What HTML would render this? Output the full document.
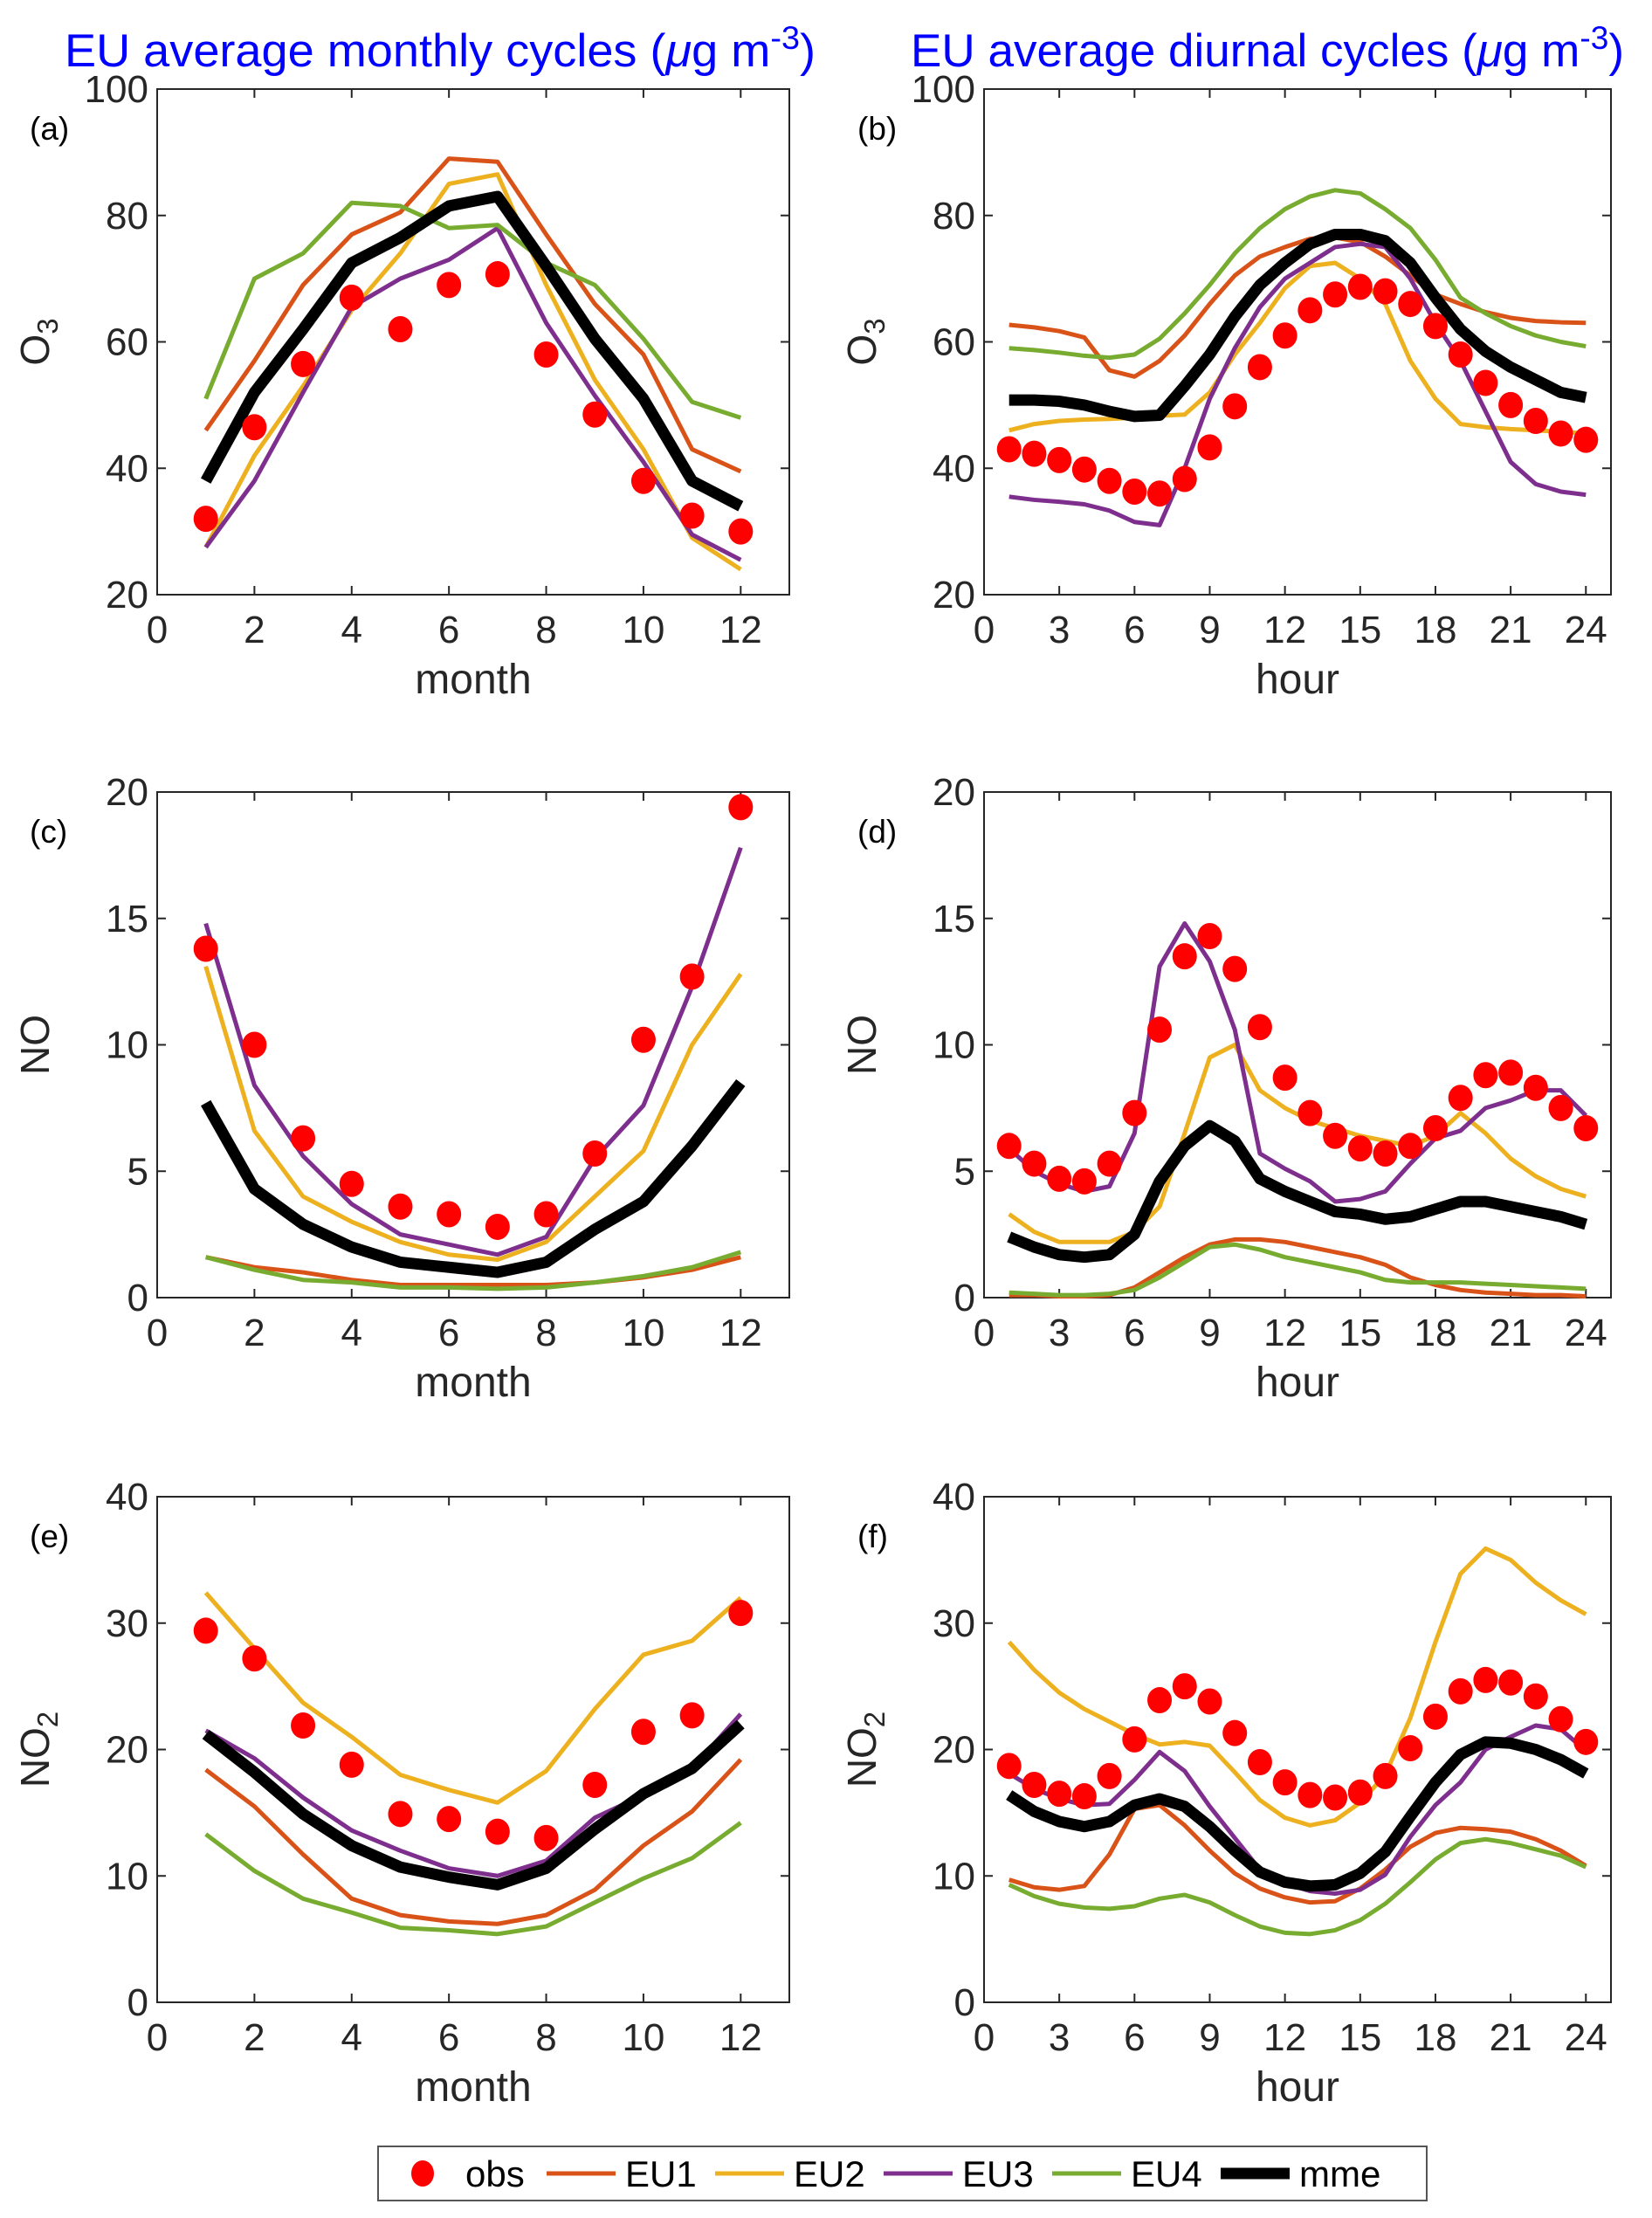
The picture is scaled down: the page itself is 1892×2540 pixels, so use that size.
<!DOCTYPE html>
<html><head><meta charset="utf-8">
<style>
html,body{margin:0;padding:0;background:#fff;}
svg{display:block;font-family:"Liberation Sans",Arial,sans-serif;}
</style></head>
<body>
<svg id="fig" width="1892" height="2540" viewBox="0 0 1892 2540" xmlns="http://www.w3.org/2000/svg">
<text x="74" y="76" font-size="53" fill="#0000FF" textLength="860" lengthAdjust="spacingAndGlyphs">EU average monthly cycles (<tspan font-style="italic">μ</tspan>g m<tspan dy="-20" font-size="37">-3</tspan><tspan dy="20">)</tspan></text>
<text x="1043" y="76" font-size="53" fill="#0000FF" textLength="817" lengthAdjust="spacingAndGlyphs">EU average diurnal cycles (<tspan font-style="italic">μ</tspan>g m<tspan dy="-20" font-size="37">-3</tspan><tspan dy="20">)</tspan></text>
<g id="legend">
<rect x="433" y="2458" width="1201" height="62" fill="#fff" stroke="#555" stroke-width="2"/>
<ellipse cx="484" cy="2489" rx="13" ry="15" fill="#FF0000"/>
<text x="533" y="2504" font-size="42">obs</text>
<line x1="626" y1="2489" x2="705" y2="2489" stroke="#D95319" stroke-width="5"/>
<text x="716" y="2504" font-size="42">EU1</text>
<line x1="819" y1="2489" x2="898" y2="2489" stroke="#EDB120" stroke-width="5"/>
<text x="909" y="2504" font-size="42">EU2</text>
<line x1="1012" y1="2489" x2="1091" y2="2489" stroke="#7E2F8E" stroke-width="5"/>
<text x="1102" y="2504" font-size="42">EU3</text>
<line x1="1205" y1="2489" x2="1284" y2="2489" stroke="#77AC30" stroke-width="5"/>
<text x="1295" y="2504" font-size="42">EU4</text>
<line x1="1398" y1="2489" x2="1477" y2="2489" stroke="#000" stroke-width="13"/>
<text x="1488" y="2504" font-size="42">mme</text>
</g>
</svg>
<script>
// Panel (a) O3 monthly
const aObs=[32,46.5,56.5,67,62,69,70.7,58,48.5,38,32.5,30];
const aEU1=[46,57,69,77,80.5,89,88.5,77,66,58,43,39.5];
const aEU2=[27.5,42,53,65,74,85,86.5,69,54,43,29,24];
const aEU3=[27.5,38,52,65.5,70,73,78,63,51.5,41,29.5,25.5];
const aEU4=[51,70,74,82,81.5,78,78.5,72.5,69,60.5,50.5,48];
const aMME=[38,52,62,72.5,76.5,81.5,83,72,60.5,51,38,34];
// Panel (b) O3 diurnal
const bObs=[43,42.3,41.3,39.8,38,36.3,36,38.3,43.3,49.8,56,61,65,67.5,68.7,68,66,62.5,58,53.5,50,47.5,45.5,44.5];
const bEU1=[62.7,62.3,61.7,60.7,55.5,54.5,57,61,66,70.5,73.5,75,76.3,76.5,75.8,73.5,70.5,67.5,66,64.7,63.8,63.3,63.1,63];
const bEU2=[46,47,47.5,47.7,47.8,48,48.3,48.5,52,58,63,68.5,72,72.5,70,66,57,51,47,46.5,46.2,46,45.8,45.5];
const bEU3=[35.5,35,34.7,34.3,33.3,31.5,31,40,51,59,65.5,70,72.5,75,75.5,75,70,63,57,49,41,37.5,36.3,35.8];
const bEU4=[59,58.7,58.3,57.8,57.5,58,60.5,64.5,69,74,78,81,83,84,83.5,81,78,73,67,64.5,62.5,61,60,59.3];
const bMME=[50.8,50.8,50.6,50,49,48.2,48.4,53,58,64,69,72.5,75.5,77,77,76,72.5,67,62,58.5,56,54,52,51.2];
// Panel (c) NO monthly
const cObs=[13.8,10,6.3,4.5,3.6,3.3,2.8,3.3,5.7,10.2,12.7,19.4];
const cEU1=[1.6,1.2,1,0.7,0.5,0.5,0.5,0.5,0.6,0.8,1.1,1.6];
const cEU2=[13.1,6.6,4,3,2.2,1.7,1.5,2.2,4,5.8,10,12.8];
const cEU3=[14.8,8.4,5.6,3.7,2.5,2.1,1.7,2.4,5.5,7.6,12.3,17.8];
const cEU4=[1.6,1.1,0.7,0.6,0.4,0.4,0.35,0.4,0.6,0.85,1.2,1.8];
const cMME=[7.7,4.3,2.9,2,1.4,1.2,1,1.4,2.7,3.8,6,8.5];
// Panel (d) NO diurnal
const dObs=[6,5.3,4.7,4.6,5.3,7.3,10.6,13.5,14.3,13,10.7,8.7,7.3,6.4,5.9,5.7,6,6.7,7.9,8.8,8.9,8.3,7.5,6.7];
const dEU1=[0.1,0.1,0.05,0.05,0.1,0.4,1,1.6,2.1,2.3,2.3,2.2,2,1.8,1.6,1.3,0.8,0.5,0.3,0.2,0.15,0.1,0.1,0.05];
const dEU2=[3.3,2.6,2.2,2.2,2.2,2.6,3.6,6.5,9.5,10,8.2,7.5,7,6.7,6.4,6.2,6,6.4,7.3,6.5,5.5,4.8,4.3,4];
const dEU3=[5.9,5,4.5,4.2,4.4,6.5,13.1,14.8,13.3,10.6,5.7,5.1,4.6,3.8,3.9,4.2,5.3,6.3,6.6,7.5,7.8,8.2,8.2,7.2];
const dEU4=[0.2,0.15,0.1,0.1,0.15,0.3,0.8,1.4,2,2.1,1.9,1.6,1.4,1.2,1,0.7,0.6,0.6,0.6,0.55,0.5,0.45,0.4,0.35];
const dMME=[2.4,2,1.7,1.6,1.7,2.5,4.6,6,6.8,6.2,4.7,4.2,3.8,3.4,3.3,3.1,3.2,3.5,3.8,3.8,3.6,3.4,3.2,2.9];
// Panel (e) NO2 monthly
const eObs=[29.4,27.2,21.9,18.8,14.9,14.5,13.5,13,17.2,21.4,22.7,30.8];
const eEU1=[18.4,15.5,11.7,8.2,6.9,6.4,6.2,6.9,8.9,12.4,15.1,19.2];
const eEU2=[32.4,28,23.7,21,18,16.8,15.8,18.3,23.2,27.5,28.6,32];
const eEU3=[21.5,19.3,16.2,13.6,12,10.6,10,11.2,14.6,16.4,18.5,22.8];
const eEU4=[13.3,10.4,8.2,7.1,5.9,5.7,5.4,6,7.9,9.8,11.4,14.2];
const eMME=[21.2,18.2,14.9,12.4,10.7,9.9,9.3,10.6,13.7,16.5,18.5,22];
// Panel (f) NO2 diurnal
const fObs=[18.7,17.2,16.5,16.3,17.9,20.8,23.9,25,23.8,21.3,19,17.4,16.4,16.2,16.6,17.9,20.1,22.6,24.6,25.5,25.3,24.2,22.4,20.6];
const fEU1=[9.7,9.1,8.9,9.2,11.7,15.3,15.6,14,12,10.2,9,8.3,7.9,8,9,10.5,12.3,13.4,13.8,13.7,13.5,12.9,12,10.8];
const fEU2=[28.5,26.3,24.5,23.2,22.2,21.2,20.4,20.6,20.3,18.2,16,14.6,14,14.4,15.8,18,22.5,28.5,33.9,35.9,35,33.2,31.8,30.7];
const fEU3=[18.1,16.9,16.1,15.6,15.7,17.6,19.8,18.3,15.5,13,10.5,9.4,8.8,8.6,8.9,10.1,13.1,15.6,17.4,20,21,21.9,21.6,19.9];
const fEU4=[9.3,8.4,7.8,7.5,7.4,7.6,8.2,8.5,7.9,6.9,6,5.5,5.4,5.7,6.5,7.8,9.5,11.3,12.6,12.9,12.6,12.1,11.6,10.7];
const fMME=[16.4,15.1,14.3,13.9,14.3,15.6,16.1,15.5,13.9,12,10.3,9.5,9.2,9.3,10.2,11.9,14.7,17.4,19.6,20.6,20.5,20,19.2,18.1];
const monthTicks=[0,2,4,6,8,10,12];
const hourTicks=[0,3,6,9,12,15,18,21,24];
const o3Ticks=[20,40,60,80,100];
const noTicks=[0,5,10,15,20];
const no2Ticks=[0,10,20,30,40];

const NS='http://www.w3.org/2000/svg';
const svg=document.getElementById('fig');
function mk(tag,attrs,parent){const e=document.createElementNS(NS,tag);for(const k in attrs)e.setAttribute(k,attrs[k]);(parent||svg).appendChild(e);return e;}

function panel(id,L,T,xMax,yMin,yMax,xt,yt,xlabel,ylab,letter,series){
  const R=L===180?904:1845, B=T+579;
  const g=mk('g',{});
  
  
  const sx=v=>L+(R-L)*v/xMax, sy=v=>B-(B-T)*(v-yMin)/(yMax-yMin);
  mk('rect',{x:L,y:T,width:R-L,height:B-T,fill:'#fff',stroke:'#262626','stroke-width':2},g);
  xt.forEach(v=>{
    const x=sx(v);
    mk('line',{x1:x,y1:B,x2:x,y2:B-10,stroke:'#262626','stroke-width':2},g);
    mk('line',{x1:x,y1:T,x2:x,y2:T+10,stroke:'#262626','stroke-width':2},g);
    const t=mk('text',{x:x,y:B+55,'font-size':44,'text-anchor':'middle',fill:'#262626'},g);
    
    
    t.textContent=v;
  });
  yt.forEach(v=>{
    const y=sy(v);
    mk('line',{x1:L,y1:y,x2:L+10,y2:y,stroke:'#262626','stroke-width':2},g);
    mk('line',{x1:R,y1:y,x2:R-10,y2:y,stroke:'#262626','stroke-width':2},g);
    const t=mk('text',{x:L-10,y:y+15,'font-size':44,'text-anchor':'end',fill:'#262626'},g);
    
    
    t.textContent=v;
  });
  const xl=mk('text',{x:(L+R)/2,y:B+113,'font-size':48,'text-anchor':'middle',fill:'#262626'},g);
  
  
  xl.textContent=xlabel;
  const yx=L===180?56:1003;
  const yl=mk('text',{x:0,y:0,'font-size':46,'text-anchor':'middle',fill:'#262626',transform:'translate('+yx+','+((T+B)/2)+') rotate(-90)'},g);
  
  
  yl.innerHTML=ylab;
  const pl=mk('text',{x:L===180?34:982,y:T+58,'font-size':37,fill:'#000'},g);
  
  
  pl.textContent='('+letter+')';
  const cols=['#D95319','#EDB120','#7E2F8E','#77AC30'];
  const names=['eu1','eu2','eu3','eu4'];
  for(let k=0;k<4;k++){
    const p=mk('polyline',{points:series[k+1].map((v,i)=>sx(i+1)+','+sy(v)).join(' '),fill:'none',stroke:cols[k],'stroke-width':5,'stroke-linejoin':'round'},g);
    
    
  }
  const m=mk('polyline',{points:series[5].map((v,i)=>sx(i+1)+','+sy(v)).join(' '),fill:'none',stroke:'#000','stroke-width':13,'stroke-linejoin':'round'},g);
  
  
  series[0].forEach((v,i)=>{
    const c=mk('ellipse',{cx:sx(i+1),cy:sy(v),rx:14,ry:15,fill:'#FF0000'},g);
    
    
  });
}
const O3='O<tspan dy="10" font-size="33">3</tspan>', NO2='NO<tspan dy="10" font-size="33">2</tspan>';
panel('a',180,102,13,20,100,monthTicks,o3Ticks,'month',O3,'a',[aObs,aEU1,aEU2,aEU3,aEU4,aMME]);
panel('b',1127,102,25,20,100,hourTicks,o3Ticks,'hour',O3,'b',[bObs,bEU1,bEU2,bEU3,bEU4,bMME]);
panel('c',180,907,13,0,20,monthTicks,noTicks,'month','NO','c',[cObs,cEU1,cEU2,cEU3,cEU4,cMME]);
panel('d',1127,907,25,0,20,hourTicks,noTicks,'hour','NO','d',[dObs,dEU1,dEU2,dEU3,dEU4,dMME]);
panel('e',180,1714,13,0,40,monthTicks,no2Ticks,'month',NO2,'e',[eObs,eEU1,eEU2,eEU3,eEU4,eMME]);
panel('f',1127,1714,25,0,40,hourTicks,no2Ticks,'hour',NO2,'f',[fObs,fEU1,fEU2,fEU3,fEU4,fMME]);
svg.appendChild(document.getElementById('legend'));
</script>
</body></html>
